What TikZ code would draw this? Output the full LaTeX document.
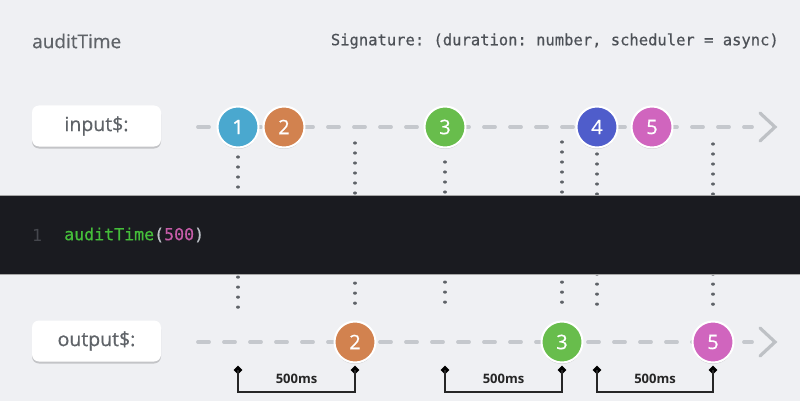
\documentclass[tikz,border=0pt]{standalone}
\usepackage{fontspec}
\setmainfont{Open Sans}
\setmonofont{DejaVu Sans Mono}
\usetikzlibrary{shadows,shapes.geometric}
\definecolor{bg}{HTML}{EFF0F3}
\definecolor{txtgray}{HTML}{5F6368}
\definecolor{siggray}{HTML}{4D5157}
\definecolor{dashgray}{HTML}{C5C8CD}
\definecolor{dotgray}{HTML}{5F6368}
\definecolor{band}{HTML}{1A1B20}
\definecolor{codegreen}{HTML}{45BD3A}
\definecolor{codepink}{HTML}{C65CA8}
\definecolor{codeparen}{HTML}{BCC0C6}
\definecolor{codenum}{HTML}{45474D}
\definecolor{cone}{HTML}{4AA8CF}
\definecolor{ctwo}{HTML}{D2824F}
\definecolor{cthree}{HTML}{68BD4C}
\definecolor{cfour}{HTML}{4F5DCB}
\definecolor{cfive}{HTML}{D065BE}
\tikzset{
  labelbox/.style={fill=white, rounded corners=7pt, minimum width=129pt, minimum height=41pt,
    text=txtgray, font=\fontsize{19.5}{20}\selectfont\addfontfeatures{FakeBold=0.6},
    drop shadow={shadow xshift=0pt, shadow yshift=-2pt, opacity=0.18, fill=black}},
  dashline/.style={draw=dashgray, line width=3.8pt, line cap=round, dash pattern=on 11pt off 15pt},
  chev/.style={draw=dashgray!90!gray, line width=3.2pt, line cap=round, line join=miter},
  marble/.style={circle, minimum size=41pt, inner sep=0pt, draw=white, line width=2pt,
    text=white, font=\fontsize{20}{20}\selectfont\addfontfeatures{FakeBold=0.4},
    drop shadow={shadow xshift=0pt, shadow yshift=-1.5pt, opacity=0.15, fill=black}},
  dots/.style={draw=dotgray, line width=3.2pt, line cap=round, dash pattern=on 0.01pt off 10pt},
  tick/.style={diamond, fill=black, inner sep=0pt, minimum size=9pt},
  bracket/.style={draw=black!85, line width=2pt},
  mslabel/.style={font=\fontsize{13}{13}\selectfont\bfseries, text=black!85}
}
\begin{document}
\begin{tikzpicture}[x=1pt,y=-1pt]
\fill[bg] (0,0) rectangle (800,401);
\useasboundingbox (0,0) rectangle (800,401);

% header
\node[anchor=west, inner sep=0pt, text=txtgray, font=\fontsize{19}{19}\selectfont\addfontfeatures{FakeBold=0.5}] (title) at (32,41) {auditTime};
\node[anchor=east, inner sep=0pt, text=siggray, font=\ttfamily\fontsize{15.5}{16}\selectfont\addfontfeatures{FakeBold=0.5}] (sig) at (779,41) {Signature: (duration: number, scheduler = async)};

% dotted time marks
\coordinate (d1a) at (238,157); \coordinate (d1b) at (238,314);
\coordinate (d2a) at (355,143); \coordinate (d2b) at (355,310);
\coordinate (d3a) at (445,162); \coordinate (d3b) at (445,308);
\coordinate (d4a) at (562,142); \coordinate (d4b) at (562,308);
\coordinate (d5a) at (597,154); \coordinate (d5b) at (597,311);
\coordinate (d6a) at (713,144); \coordinate (d6b) at (713,309);
\foreach \i in {1,...,6} { \draw[dots] (d\i a) -- (d\i b); }

% code band
\fill[band] (0,195) rectangle (800,274);
\draw[gray!70, line width=0.8pt] (0,195) -- (800,195) (0,274) -- (800,274);
\node[anchor=west, inner sep=0pt, text=codenum, font=\ttfamily\fontsize{16.6}{17}\selectfont] (ln) at (32,235) {1};
\node[anchor=west, inner sep=0pt, font=\ttfamily\fontsize{16.6}{17}\selectfont\addfontfeatures{FakeBold=0.6}] (code) at (64,235)
  {\textcolor{codegreen}{auditTime}\textcolor{codeparen}{(}\textcolor{codepink}{500}\textcolor{codeparen}{)}};

% input row
\node[labelbox] (inlab) at (96.5,126) {input\$:};
\coordinate (ia) at (198,127); \coordinate (ib) at (752,127);
\draw[dashline] (ia) -- (ib);
\coordinate (ic1) at (760,113); \coordinate (ic2) at (775,127); \coordinate (ic3) at (760,141);
\draw[chev] (ic1) -- (ic2) -- (ic3);
\node[marble, fill=cone]   (i1) at (238,127) {1};
\node[marble, fill=ctwo]   (i2) at (284,127) {2};
\node[marble, fill=cthree] (i3) at (445,127) {3};
\node[marble, fill=cfour]  (i4) at (597,127) {4};
\node[marble, fill=cfive]  (i5) at (652,127) {5};

% output row
\node[labelbox] (outlab) at (96.5,341) {output\$:};
\coordinate (oa) at (198,342); \coordinate (ob) at (752,342);
\draw[dashline] (oa) -- (ob);
\coordinate (oc1) at (760,328); \coordinate (oc2) at (775,342); \coordinate (oc3) at (760,356);
\draw[chev] (oc1) -- (oc2) -- (oc3);
\node[marble, fill=ctwo]   (o2) at (355,342) {2};
\node[marble, fill=cthree] (o3) at (562,342) {3};
\node[marble, fill=cfive]  (o5) at (713,342) {5};

% 500ms brackets
\node[tick] (t1a) at (238,370) {}; \node[tick] (t1b) at (355,370) {};
\node[tick] (t2a) at (445,370) {}; \node[tick] (t2b) at (562,370) {};
\node[tick] (t3a) at (597,370) {}; \node[tick] (t3b) at (713,370) {};
\draw[bracket] (t1a.center) -- ++(0,22) -| (t1b.center);
\draw[bracket] (t2a.center) -- ++(0,22) -| (t2b.center);
\draw[bracket] (t3a.center) -- ++(0,22) -| (t3b.center);
\node[mslabel] (m1) at (296.5,379) {500ms};
\node[mslabel] (m2) at (503.5,379) {500ms};
\node[mslabel] (m3) at (655,379) {500ms};
\end{tikzpicture}
\end{document}
